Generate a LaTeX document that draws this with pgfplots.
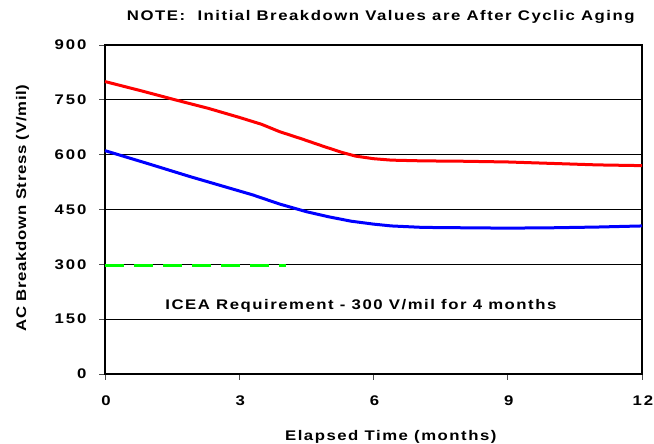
\documentclass[border=0pt]{standalone}
\usepackage{fontspec}
\setmainfont{Liberation Sans}
\newfontfamily\spaced{Liberation Sans}[LetterSpace=11, FakeStretch=1.2]
\newfontfamily\spacedy{Liberation Sans}[LetterSpace=5, FakeStretch=1.2]
\newfontfamily\spacedt{Liberation Sans}[LetterSpace=14, FakeStretch=1.2]
\usepackage{pgfplots}
\pgfplotsset{compat=1.18}
\begin{document}
\begin{tikzpicture}[x=1bp,y=1bp]
\useasboundingbox (0,0) rectangle (654,444);
\begin{axis}[
  at={(105bp,70bp)}, anchor=south west,
  width=537bp, height=329bp, scale only axis,
  xmin=0, xmax=12, ymin=0, ymax=900,
  xtick={0,3,6,9,12}, ytick={0,150,300,450,600,750,900},
  ymajorgrids, grid style={black, line width=0.8bp},
  axis line style={black, line width=1.3bp},
  tick style={black!70, line width=0.8bp},
  tick align=outside, major tick length=6bp,
  xtick pos=bottom, ytick pos=left,
  tick label style={font=\fontsize{14}{16}\selectfont\bfseries\spacedt},
  /pgf/number format/assume math mode=true,
  yticklabel style={xshift=-9bp},
  xticklabel style={yshift=-12bp, xshift=1bp},
  clip=false,
]
\addplot[red, line width=3bp] coordinates {
 (0,800) (0.8,775) (1.6,749) (2.3,727) (3,702) (3.5,683) (3.9,663) (4.4,643) (4.9,622) (5.3,606) (5.6,596) (6.0,589) (6.4,585) (7.1,583) (8,582) (9,580) (10,576) (11,572) (12,570)};
\addplot[blue, line width=3bp] coordinates {
 (0,611) (1,574) (1.9,540) (2.6,515) (3.3,490) (3.9,465) (4.5,444) (5,430) (5.5,418) (6,410) (6.4,405) (7.1,401) (8,400) (9,399) (10,400) (11,402) (12,405)};
\addplot[color={rgb,255:red,0;green,255;blue,0}, line width=3bp, dash pattern=on 19bp off 10bp] coordinates {(0,298) (4.05,298)};
\node[font=\fontsize{14}{16}\selectfont\bfseries\spaced, xshift=0.8bp] at (axis cs:5.7,186) {ICEA Requirement - 300 V/mil for 4 months};
\end{axis}
\node[font=\fontsize{14}{16}\selectfont\bfseries\spaced, xshift=0.8bp] at (380,427) {NOTE:\ \ Initial Breakdown Values are After Cyclic Aging};
\node[font=\fontsize{14}{16}\selectfont\bfseries\spacedy, rotate=90, yshift=-0.4bp] at (22,236) {AC Breakdown Stress (V/mil)};
\node[font=\fontsize{14}{16}\selectfont\bfseries\spaced, xshift=0.8bp] at (390,7) {Elapsed Time (months)};
\end{tikzpicture}
\end{document}
